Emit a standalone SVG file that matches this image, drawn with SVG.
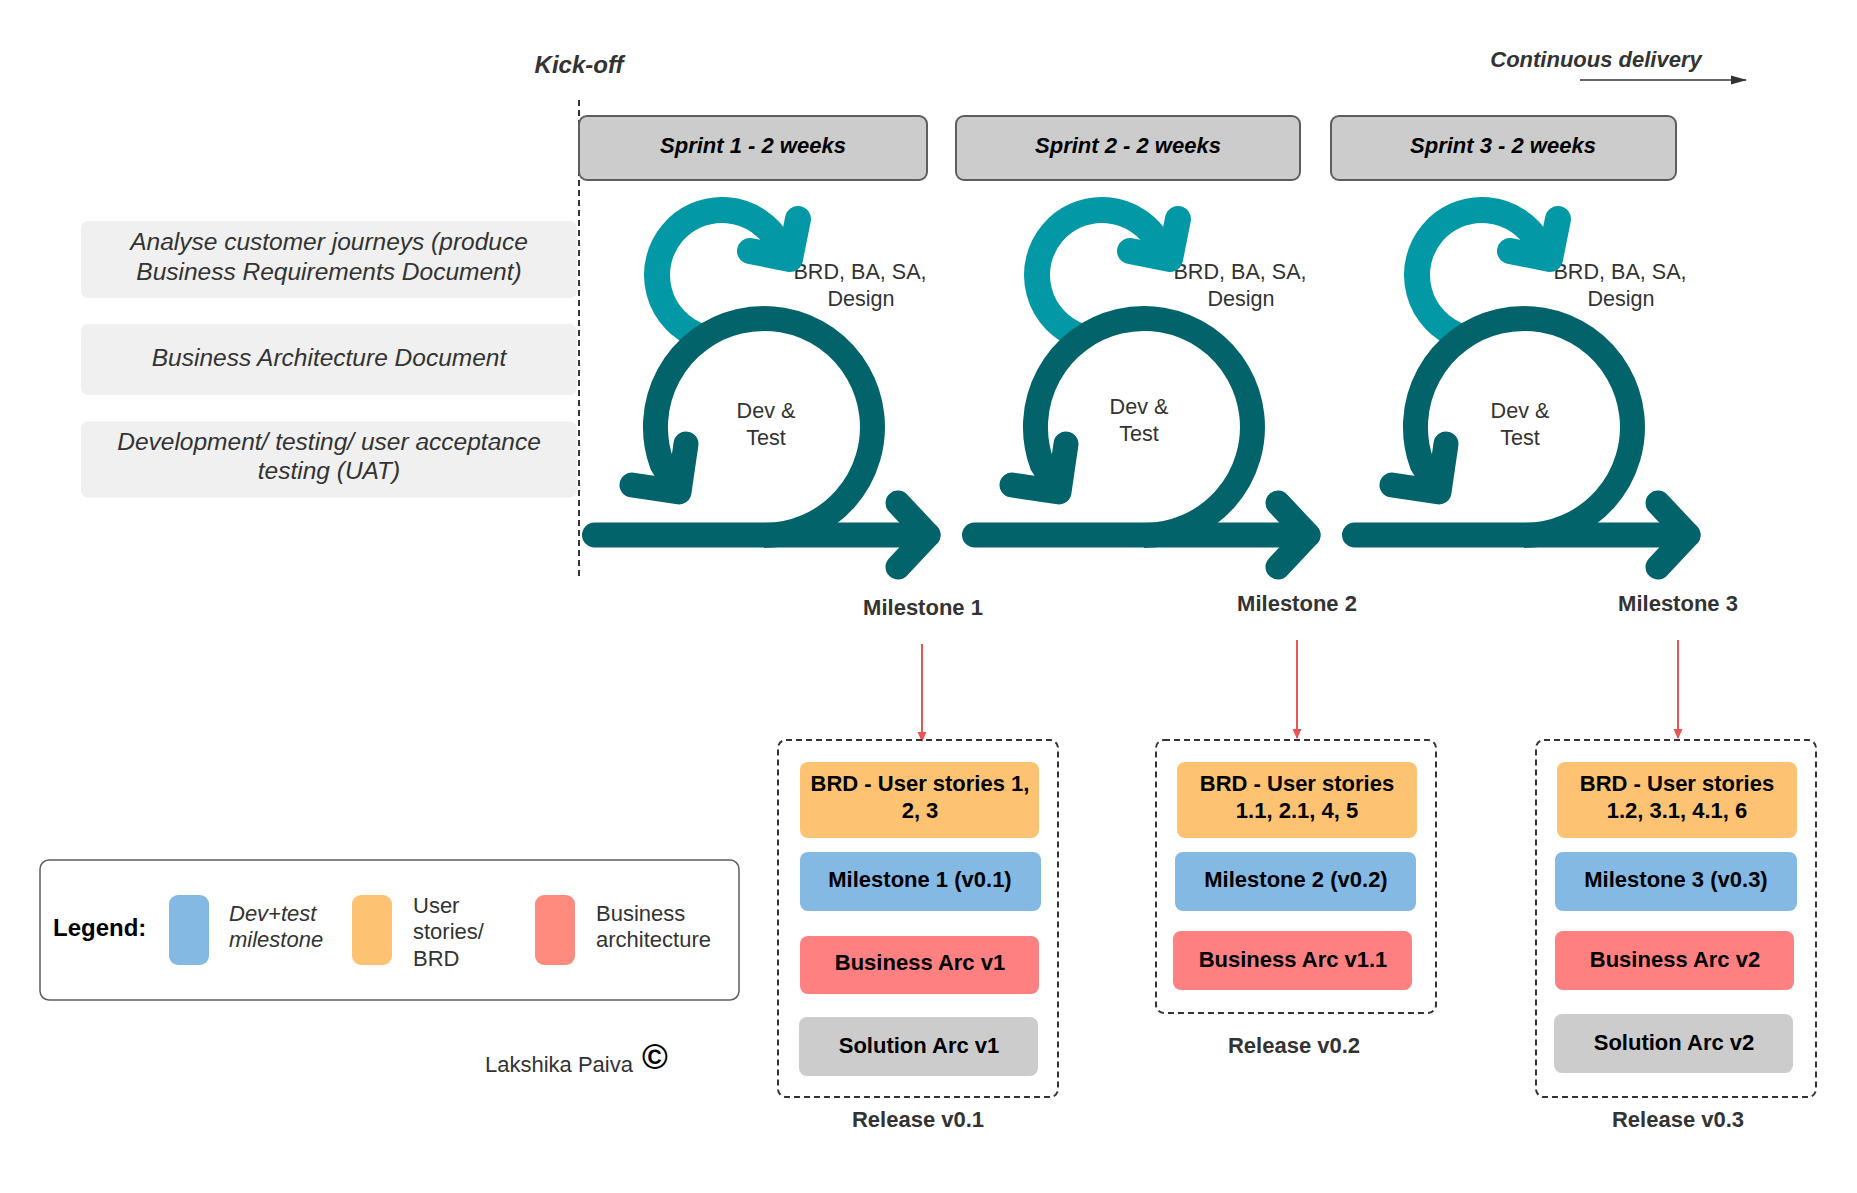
<svg xmlns="http://www.w3.org/2000/svg" width="1857" height="1193" viewBox="0 0 1857 1193">
<style>
  text { font-family: "Liberation Sans", Arial, Helvetica, sans-serif; }
  .hdr { font-size: 24px; font-weight: bold; font-style: italic; fill: #333333; }
  .cd { font-size: 22px; font-weight: bold; font-style: italic; fill: #333333; }
  .sprint rect { fill: #cccccc; stroke: #5e5e5e; stroke-width: 2; }
  .sprint text { font-size: 22px; font-weight: bold; font-style: italic; fill: #000000; text-anchor: middle; }
  .phase rect { fill: #eff0ef; }
  .phase text { font-size: 24.5px; font-style: italic; fill: #333333; text-anchor: middle; }
  .lbl { font-size: 21.6px; fill: #333333; text-anchor: middle; }
  .ms { font-size: 22px; font-weight: bold; fill: #333333; text-anchor: middle; }
  .light { fill: none; stroke: #0398a6; stroke-width: 26; stroke-linecap: round; stroke-linejoin: round; }
  .dark { fill: none; stroke: #03636a; stroke-width: 25; stroke-linecap: round; stroke-linejoin: round; }
  .darkb { fill: none; stroke: #03636a; stroke-width: 25; stroke-linecap: butt; }
  .lightb { fill: none; stroke: #0398a6; stroke-width: 26; stroke-linecap: butt; }
  .release > rect.frame { fill: none; stroke: #333333; stroke-width: 2; stroke-dasharray: 6 4; }
  .item text { font-size: 22px; font-weight: bold; fill: #000000; text-anchor: middle; }
  .orange { fill: #fdc373; }
  .blue { fill: #84b9e3; }
  .red { fill: #ff8080; }
  .grey { fill: #cccccc; }
  .legend text { font-size: 22px; fill: #333333; }
  .redarrow { stroke: #e85555; stroke-width: 2; fill: none; }
</style>
<defs>
  <marker id="redhead" markerWidth="10" markerHeight="10" refX="9" refY="5" orient="auto" markerUnits="userSpaceOnUse">
    <path d="M0,0.5 L10,5 L0,9.5 Z" fill="#e85555"/>
  </marker>
  <marker id="darkhead" markerWidth="16" markerHeight="10" refX="15" refY="5" orient="auto" markerUnits="userSpaceOnUse">
    <path d="M0,0.5 L16,5 L0,9.5 Z" fill="#333333"/>
  </marker>
</defs>
<rect x="0" y="0" width="1857" height="1193" fill="#ffffff"/>

<!-- Kick-off -->
<g id="kickoff">
  <text class="hdr" x="579" y="73" text-anchor="middle">Kick-off</text>
  <line x1="579" y1="100" x2="579" y2="578" stroke="#333333" stroke-width="2" stroke-dasharray="6 4"/>
</g>

<!-- Continuous delivery -->
<g id="continuous-delivery">
  <text class="cd" x="1596" y="67" text-anchor="middle">Continuous delivery</text>
  <line x1="1580" y1="80" x2="1746" y2="80" stroke="#333333" stroke-width="1.6" marker-end="url(#darkhead)"/>
</g>

<!-- Phase boxes -->
<g id="phase-analyse" class="phase">
  <rect x="81" y="221" width="496" height="77" rx="7"/>
  <text x="329" y="250">Analyse customer journeys (produce</text>
  <text x="329" y="280">Business Requirements Document)</text>
</g>
<g id="phase-ba" class="phase">
  <rect x="81" y="324" width="496" height="71" rx="7"/>
  <text x="329" y="365.5">Business Architecture Document</text>
</g>
<g id="phase-dev" class="phase">
  <rect x="81" y="421.5" width="496" height="76" rx="7"/>
  <text x="329" y="449.5">Development/ testing/ user acceptance</text>
  <text x="329" y="479">testing (UAT)</text>
</g>

<!-- Sprints -->
<g id="sprint1" class="sprint">
  <rect x="579" y="116" width="348" height="64" rx="8"/>
  <text x="753" y="153">Sprint 1 - 2 weeks</text>
</g>
<g id="sprint2" class="sprint">
  <rect x="956" y="116" width="344" height="64" rx="8"/>
  <text x="1128" y="153">Sprint 2 - 2 weeks</text>
</g>
<g id="sprint3" class="sprint">
  <rect x="1331" y="116" width="345" height="64" rx="8"/>
  <text x="1503" y="153">Sprint 3 - 2 weeks</text>
</g>

<!-- Cycle 1 -->
<g id="cycle1">
  <text class="lbl" x="860" y="279">BRD, BA, SA,</text>
  <text class="lbl" x="861" y="306">Design</text>
  <path class="lightb" d="M699.8,336.1 A65,65 0 1,1 778.3,242.5 L790,259"/>
  <path class="light" d="M798,219 L790,259 L750,251"/>
  <path class="darkb" d="M764,535.5 A108.5,108.5 0 1,0 662,464.1 L679,492"/>
  <path class="dark" d="M686,444 L679,492 L632,485"/>
  <path class="dark" d="M594.5,535 L928,535"/>
  <path class="dark" d="M898,503 L928,535 L898,567"/>
  <text class="lbl" x="766" y="418">Dev &amp;</text>
  <text class="lbl" x="766" y="445">Test</text>
</g>

<!-- Cycle 2 -->
<g id="cycle2">
  <text class="lbl" x="1240" y="279">BRD, BA, SA,</text>
  <text class="lbl" x="1241" y="306">Design</text>
  <g transform="translate(380,0)">
    <path class="lightb" d="M699.8,336.1 A65,65 0 1,1 778.3,242.5 L790,259"/>
    <path class="light" d="M798,219 L790,259 L750,251"/>
    <path class="darkb" d="M764,535.5 A108.5,108.5 0 1,0 662,464.1 L679,492"/>
    <path class="dark" d="M686,444 L679,492 L632,485"/>
    <path class="dark" d="M594.5,535 L928,535"/>
    <path class="dark" d="M898,503 L928,535 L898,567"/>
  </g>
  <text class="lbl" x="1139" y="414">Dev &amp;</text>
  <text class="lbl" x="1139" y="441">Test</text>
</g>

<!-- Cycle 3 -->
<g id="cycle3">
  <text class="lbl" x="1620" y="279">BRD, BA, SA,</text>
  <text class="lbl" x="1621" y="306">Design</text>
  <g transform="translate(760,0)">
    <path class="lightb" d="M699.8,336.1 A65,65 0 1,1 778.3,242.5 L790,259"/>
    <path class="light" d="M798,219 L790,259 L750,251"/>
    <path class="darkb" d="M764,535.5 A108.5,108.5 0 1,0 662,464.1 L679,492"/>
    <path class="dark" d="M686,444 L679,492 L632,485"/>
    <path class="dark" d="M594.5,535 L928,535"/>
    <path class="dark" d="M898,503 L928,535 L898,567"/>
  </g>
  <text class="lbl" x="1520" y="418">Dev &amp;</text>
  <text class="lbl" x="1520" y="445">Test</text>
</g>

<!-- Milestone labels -->
<g id="milestone1-label"><text class="ms" x="923" y="615">Milestone 1</text></g>
<g id="milestone2-label"><text class="ms" x="1297" y="611">Milestone 2</text></g>
<g id="milestone3-label"><text class="ms" x="1678" y="611">Milestone 3</text></g>

<!-- Connectors -->
<g id="connectors">
  <line class="redarrow" x1="922" y1="644" x2="922" y2="741" marker-end="url(#redhead)"/>
  <line class="redarrow" x1="1297" y1="640" x2="1297" y2="738" marker-end="url(#redhead)"/>
  <line class="redarrow" x1="1678" y1="640" x2="1678" y2="738" marker-end="url(#redhead)"/>
</g>

<!-- Release 1 -->
<g id="release1" class="release">
  <rect class="frame" x="778" y="740" width="280" height="357" rx="8"/>
  <g class="item" id="r1-brd">
    <rect class="orange" x="800" y="762" width="239" height="76" rx="8"/>
    <text x="920" y="791">BRD - User stories 1,</text>
    <text x="920" y="818">2, 3</text>
  </g>
  <g class="item" id="r1-ms">
    <rect class="blue" x="800" y="852" width="241" height="59" rx="8"/>
    <text x="920" y="887">Milestone 1 (v0.1)</text>
  </g>
  <g class="item" id="r1-ba">
    <rect class="red" x="800" y="936" width="239" height="58" rx="8"/>
    <text x="920" y="970">Business Arc v1</text>
  </g>
  <g class="item" id="r1-sa">
    <rect class="grey" x="799" y="1017" width="239" height="59" rx="8"/>
    <text x="919" y="1053">Solution Arc v1</text>
  </g>
  <text class="ms" x="918" y="1127">Release v0.1</text>
</g>

<!-- Release 2 -->
<g id="release2" class="release">
  <rect class="frame" x="1156" y="740" width="280" height="273" rx="8"/>
  <g class="item" id="r2-brd">
    <rect class="orange" x="1177" y="762" width="240" height="76" rx="8"/>
    <text x="1297" y="791">BRD - User stories</text>
    <text x="1297" y="818">1.1, 2.1, 4, 5</text>
  </g>
  <g class="item" id="r2-ms">
    <rect class="blue" x="1175" y="852" width="241" height="59" rx="8"/>
    <text x="1296" y="887">Milestone 2 (v0.2)</text>
  </g>
  <g class="item" id="r2-ba">
    <rect class="red" x="1173" y="931" width="239" height="59" rx="8"/>
    <text x="1293" y="967">Business Arc v1.1</text>
  </g>
  <text class="ms" x="1294" y="1053">Release v0.2</text>
</g>

<!-- Release 3 -->
<g id="release3" class="release">
  <rect class="frame" x="1536" y="740" width="280" height="357" rx="8"/>
  <g class="item" id="r3-brd">
    <rect class="orange" x="1557" y="762" width="240" height="76" rx="8"/>
    <text x="1677" y="791">BRD - User stories</text>
    <text x="1677" y="818">1.2, 3.1, 4.1, 6</text>
  </g>
  <g class="item" id="r3-ms">
    <rect class="blue" x="1555" y="852" width="242" height="59" rx="8"/>
    <text x="1676" y="887">Milestone 3 (v0.3)</text>
  </g>
  <g class="item" id="r3-ba">
    <rect class="red" x="1555" y="931" width="239" height="59" rx="8"/>
    <text x="1675" y="967">Business Arc v2</text>
  </g>
  <g class="item" id="r3-sa">
    <rect class="grey" x="1554" y="1014" width="239" height="59" rx="8"/>
    <text x="1674" y="1050">Solution Arc v2</text>
  </g>
  <text class="ms" x="1678" y="1127">Release v0.3</text>
</g>

<!-- Legend -->
<g id="legend" class="legend">
  <rect x="40" y="860" width="699" height="140" rx="9" fill="#ffffff" stroke="#5e5e5e" stroke-width="1.5"/>
  <text x="53" y="936" style="font-size:24px;font-weight:bold;fill:#000000">Legend:</text>
  <rect x="169" y="895" width="40" height="70" rx="9" fill="#84b9e3"/>
  <text x="229" y="921" font-style="italic">Dev+test</text>
  <text x="229" y="947" font-style="italic">milestone</text>
  <rect x="352" y="895" width="40" height="70" rx="9" fill="#fdc373"/>
  <text x="413" y="913">User</text>
  <text x="413" y="939">stories/</text>
  <text x="413" y="966">BRD</text>
  <rect x="535" y="895" width="40" height="70" rx="9" fill="#ff8b7f"/>
  <text x="596" y="921">Business</text>
  <text x="596" y="947">architecture</text>
</g>

<!-- Author -->
<g id="author">
  <text x="485" y="1072" style="font-size:22px;fill:#333333">Lakshika Paiva</text>
  <text x="642" y="1069" style="font-size:35px;font-weight:bold;fill:#000000">©</text>
</g>
</svg>
